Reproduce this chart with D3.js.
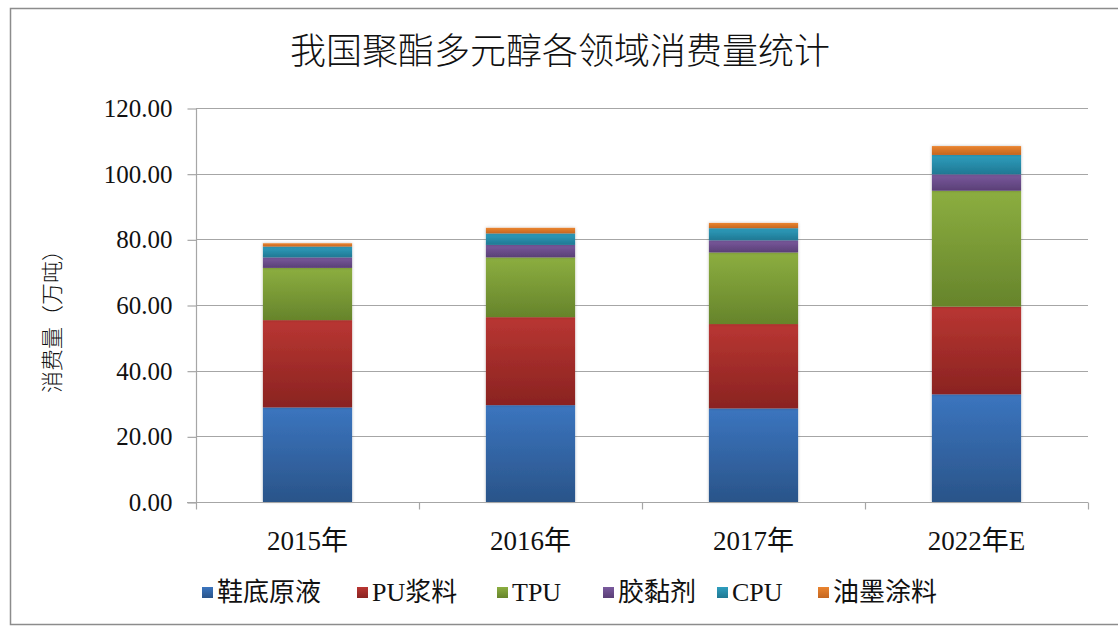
<!DOCTYPE html>
<html><head><meta charset="utf-8">
<script src="https://cdnjs.cloudflare.com/ajax/libs/d3/7.8.5/d3.min.js"></script>
<style>body{margin:0;background:#fff}svg{display:block}</style>
</head><body><svg id="c" width="1118" height="628"></svg>
<script>
const categories = ["2015年", "2016年", "2017年", "2022年E"];
const seriesNames = ["鞋底原液", "PU浆料", "TPU", "胶黏剂", "CPU", "油墨涂料"];
const v鞋底原液 = [28.8, 29.5, 28.5, 32.8];
const vPU浆料 = [26.6, 26.8, 25.7, 26.7];
const vTPU = [15.9, 18.2, 21.8, 35.3];
const v胶黏剂 = [3.2, 3.8, 3.7, 5.0];
const vCPU = [3.3, 3.5, 3.7, 5.9];
const v油墨涂料 = [1.0, 1.7, 1.6, 2.7];
const yTicks = [0, 20, 40, 60, 80, 100, 120];
const colorsTop = ["#3b75bf", "#b93632", "#8cae40", "#7a5a9e", "#2f9ebe", "#ea842f"];
const colorsBottom = ["#2a5489", "#8a2321", "#66842b", "#5a3f76", "#1f7893", "#c46620"];

const seriesValues = [v鞋底原液, vPU浆料, vTPU, v胶黏剂, vCPU, v油墨涂料];
const table = categories.map((c, i) => {
  const row = {cat: c};
  seriesNames.forEach((s, j) => row[s] = seriesValues[j][i]);
  return row;
});

const svg = d3.select("#c");
const plot = {l: 196, r: 1088, t: 108, b: 502};
const serif = "'Liberation Serif', 'Noto Sans CJK SC', serif";

svg.append("rect").attr("x", 10.5).attr("y", 8.5).attr("width", 1120).attr("height", 616)
  .attr("fill", "none").attr("stroke", "#8c8c8c").attr("stroke-width", 1.5);

const defs = svg.append("defs");
seriesNames.forEach((s, j) => {
  const g = defs.append("linearGradient").attr("id", "g" + j)
    .attr("x1", 0).attr("y1", 0).attr("x2", 0).attr("y2", 1);
  g.append("stop").attr("offset", "0%").attr("stop-color", colorsTop[j]);
  g.append("stop").attr("offset", "100%").attr("stop-color", colorsBottom[j]);
});
const f = defs.append("filter").attr("id", "sh").attr("x", "-10%").attr("y", "-10%").attr("width", "120%").attr("height", "120%");
f.append("feDropShadow").attr("dx", 0).attr("dy", 0).attr("stdDeviation", 1.5).attr("flood-color", "#000").attr("flood-opacity", 0.25);

const x = d3.scaleBand().domain(categories).range([plot.l, plot.r]).paddingInner(0.6).paddingOuter(0.3);
const xb = d3.scaleBand().domain(categories).range([plot.l, plot.r]);
const y = d3.scaleLinear().domain([0, 120]).range([plot.b, plot.t]);

svg.append("g").selectAll("line").data(yTicks.filter(d => d > 0)).join("line")
  .attr("x1", plot.l).attr("x2", plot.r)
  .attr("y1", d => Math.round(y(d)) + 0.5).attr("y2", d => Math.round(y(d)) + 0.5)
  .attr("stroke", "#a6a6a6").attr("stroke-width", 1.2);

const stack = d3.stack().keys(seriesNames)(table);
const gBars = svg.append("g");
stack.forEach((layer, j) => {
  gBars.append("g").attr("fill", `url(#g${j})`).attr("filter", "url(#sh)")
    .selectAll("rect").data(layer).join("rect")
    .attr("x", d => x(d.data.cat))
    .attr("width", x.bandwidth())
    .attr("y", d => y(d[1]))
    .attr("height", d => y(d[0]) - y(d[1]));
});

const yAxis = d3.axisLeft(y).tickValues(yTicks).tickSize(9).tickFormat(d => d3.format(".2f")(d)).tickPadding(15);
const gy = svg.append("g").attr("transform", `translate(${plot.l + 0.5},0.5)`).call(yAxis);
gy.select(".domain").attr("stroke", "#a6a6a6").attr("stroke-width", 1.2).attr("d", `M0,${plot.t}V${plot.b}`);
gy.selectAll(".tick line").attr("stroke", "#a6a6a6").attr("stroke-width", 1.2);
gy.selectAll("text").attr("font-family", serif).attr("font-size", 25).attr("fill", "#111");

const gx = svg.append("g").attr("transform", `translate(0,${plot.b + 0.5})`);
gx.append("line").attr("x1", plot.l - 9).attr("x2", plot.r).attr("stroke", "#a6a6a6").attr("stroke-width", 1.2);
const bounds = categories.map(c => xb(c)).concat([plot.r]);
gx.selectAll("line.t").data(bounds).join("line").attr("class", "t")
  .attr("x1", d => Math.round(d) + 0.5).attr("x2", d => Math.round(d) + 0.5).attr("y1", 0).attr("y2", 7)
  .attr("stroke", "#a6a6a6").attr("stroke-width", 1.2);
gx.selectAll("text").data(categories).join("text")
  .attr("x", d => xb(d) + xb.bandwidth() / 2).attr("y", 47)
  .attr("text-anchor", "middle")
  .attr("font-family", serif).attr("font-size", 27).attr("fill", "#111")
  .text(d => d);

svg.append("text").attr("x", 560).attr("y", 64).attr("text-anchor", "middle")
  .attr("font-family", "'Noto Sans CJK SC', sans-serif").attr("font-weight", 300).attr("font-size", 36).attr("fill", "#111")
  .text("我国聚酯多元醇各领域消费量统计");

svg.append("text").attr("transform", "translate(60,316) rotate(-90)").attr("text-anchor", "middle")
  .attr("font-family", "'Noto Sans CJK SC', serif").attr("font-weight", 300).attr("font-size", 22).attr("fill", "#111")
  .text("消费量（万吨）");

const legendX = [202, 357, 497, 603, 717, 818];
const lg = svg.append("g").selectAll("g").data(seriesNames).join("g")
  .attr("transform", (d, i) => `translate(${legendX[i]},592)`);
lg.append("rect").attr("x", 0).attr("y", -5).attr("width", 11).attr("height", 11)
  .attr("fill", (d, i) => `url(#g${i})`);
lg.append("text").attr("x", 15).attr("y", 9)
  .attr("font-family", serif).attr("font-size", 26).attr("fill", "#111")
  .text(d => d);
</script></body></html>
